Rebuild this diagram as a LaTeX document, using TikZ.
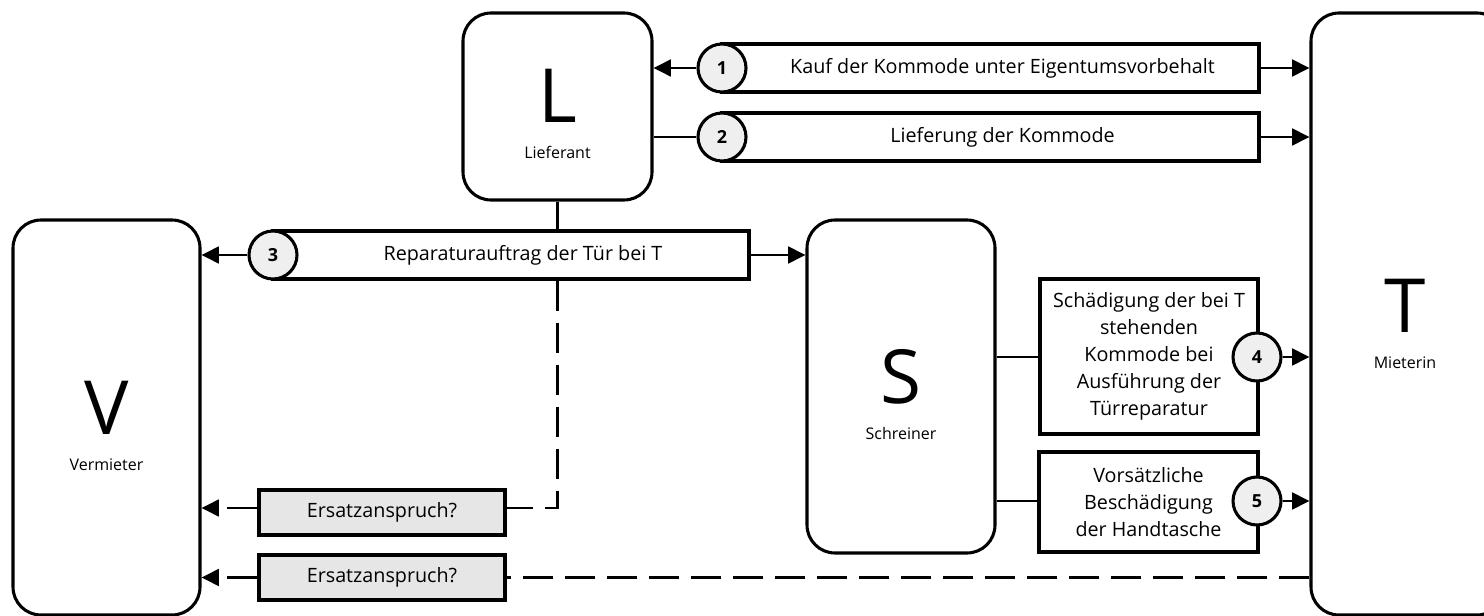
\documentclass[tikz,border=0pt]{standalone}
\usepackage{fontspec}
\setmainfont{Open Sans}
\usetikzlibrary{arrows.meta,fit,calc}
\definecolor{numgray}{HTML}{EFEFEF}
\definecolor{claimgray}{HTML}{E6E6E6}
\begin{document}
\begin{tikzpicture}[x=0.75pt,y=-0.75pt,
  party/.style={draw, line width=2.3pt, rounded corners=21pt, inner sep=0pt},
  band/.style={draw, line width=2.3pt, fill=white, inner sep=0pt},
  claim/.style={draw, line width=2.3pt, fill=claimgray, inner sep=0pt},
  num/.style={draw, circle, line width=2.3pt, fill=numgray, minimum size=36pt, inner sep=0pt, font=\bfseries\fontsize{13.5pt}{13.5pt}\selectfont},
  txt/.style={inner sep=0pt, align=center, font=\fontsize{14.8pt}{20.2pt}\selectfont},
  big/.style={inner sep=0pt, font=\fontsize{56pt}{56pt}\selectfont},
  lbl/.style={inner sep=0pt, font=\fontsize{12pt}{13pt}\selectfont},
  conn/.style={line width=2.1pt},
  arr/.style={line width=2.1pt, -{Triangle[length=13pt,width=12.5pt]}},
  dline/.style={line width=2.1pt, dash pattern=on 22.5pt off 9pt},
]
\useasboundingbox (0,0) rectangle (1484,616);

% parties
\node[party, fit={(463,13) (652,200)}] (L) {};
\node[big] (Lletter) at (557.5,96) {L};
\node[lbl] (Llabel) at (557.5,152) {Lieferant};

\node[party, fit={(1311,13) (1505,615)}] (T) {};
\node[big] (Tletter) at (1405,306) {T};
\node[lbl] (Tlabel) at (1405,363) {Mieterin};

\node[party, fit={(13,220) (200,615)}] (V) {};
\node[big] (Vletter) at (106.5,408) {V};
\node[lbl] (Vlabel) at (106.5,465) {Vermieter};

\node[party, fit={(807,220) (995,553)}] (S) {};
\node[big] (Sletter) at (901,377) {S};
\node[lbl] (Slabel) at (901,433) {Schreiner};

% band 1
\node[band, fit={(722,44) (1259,92)}] (b1) {};
\node[num] (c1) at (722,68) {1};
\node[txt] (t1) at (1002.5,68) {Kauf der Kommode unter Eigentumsvorbehalt};

% band 2
\node[band, fit={(722,113) (1259,161)}] (b2) {};
\node[num] (c2) at (722,137) {2};
\node[txt] (t2) at (1002.5,137) {Lieferung der Kommode};

% band 3
\node[band, fit={(273,231) (749,279)}] (b3) {};
\node[num] (c3) at (273,255) {3};
\node[txt] (t3) at (523,255) {Reparaturauftrag der Tür bei T};

% boxes 4 and 5
\node[band, fit={(1040,279) (1258,434)}] (d4) {};
\node[txt] (t4) at (1149,356.5) {Schädigung der bei T\\stehenden\\Kommode bei\\Ausführung der\\Türreparatur};
\node[num] (c4) at (1257,357) {4};

\node[band, fit={(1039,452) (1258,552)}] (d5) {};
\node[txt] (t5) at (1148.5,502) {Vorsätzliche\\Beschädigung\\der Handtasche};
\node[num] (c5) at (1257,501) {5};

% claims
\node[claim, fit={(259,490) (505,535)}, label={[txt]center:Ersatzanspruch?}] (e1) {};
\node[claim, fit={(259,555) (505,600)}, label={[txt]center:Ersatzanspruch?}] (e2) {};
\coordinate (k1) at (505,508);

% connectors
\draw[arr] (c1.west) -- (L.east |- c1.west);
\draw[arr] (b1.east) -- (T.west |- b1.east);
\draw[conn] (L.east |- c2.west) -- (c2.west);
\draw[arr] (b2.east) -- (T.west |- b2.east);
\draw[conn] (L.south) -- (L.south |- b3.north);
\draw[arr] (c3.west) -- (V.east |- c3.west);
\draw[arr] (b3.east) -- (S.west |- b3.east);
\draw[conn] (S.east |- c4) -- (d4.west |- c4);
\draw[conn] (S.east |- c5) -- (d5.west |- c5);
\draw[arr] (c4.east) -- (T.west |- c4.east);
\draw[arr] (c5.east) -- (T.west |- c5.east);
\draw[dline] (L.south |- b3.south) |- (k1);
\draw[dline, -{Triangle[length=13pt,width=12.5pt]}] (e1.west |- k1) -- (V.east |- k1);
\draw[dline] (T.west |- e2.east) -- (e2.east);
\draw[dline, -{Triangle[length=13pt,width=12.5pt]}] (e2.west) -- (V.east |- e2.west);
\end{tikzpicture}
\end{document}
